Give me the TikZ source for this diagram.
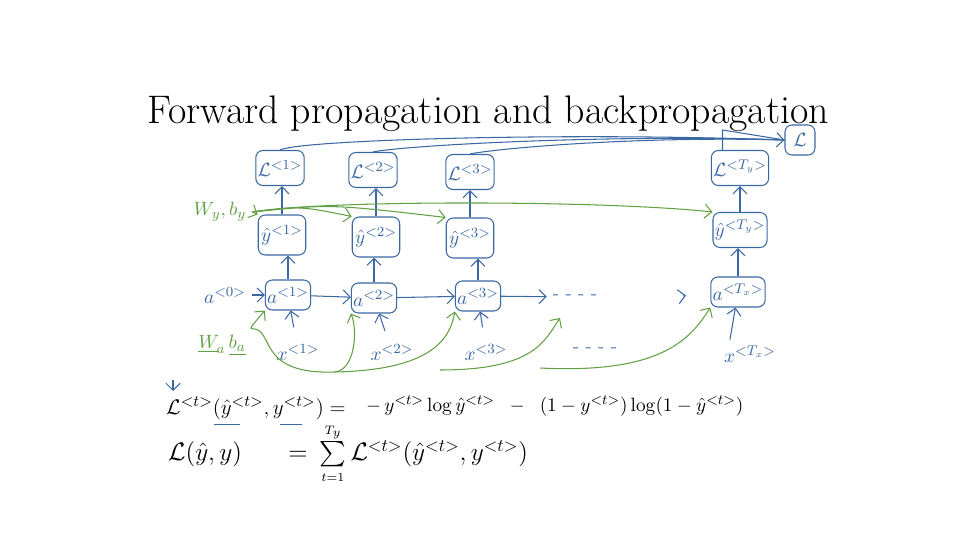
\documentclass[tikz,border=0pt]{standalone}
\usepackage{amsmath}
\usetikzlibrary{
  arrows.meta,
  positioning
}
\definecolor{inkblue}{HTML}{3A68A3}
\definecolor{inkgreen}{HTML}{62A044}

\begin{document}
\begin{tikzpicture}[x=0.02cm, y=-0.02cm,
      cell/.style={
        rectangle, rounded corners=4pt, draw=inkblue, semithick,
        inner sep=1pt, font=\fontsize{11}{13}\selectfont\color{inkblue}
      },
      lossbox/.style={cell, minimum width=0.85cm, minimum height=0.7cm},
      predbox/.style={cell, minimum width=0.95cm, minimum height=0.8cm},
      actbox/.style={cell, minimum width=0.85cm, minimum height=0.6cm},
      ink/.style={font=\fontsize{11}{13}\selectfont\color{inkblue}},
      greenink/.style={font=\fontsize{11}{13}\selectfont\color{inkgreen}},
      arrow/.style={-{Straight Barb[length=4pt]}, semithick, inkblue},
      greenarrow/.style={-{Straight Barb[length=4pt]}, semithick, inkgreen}
    ]
      \useasboundingbox (0,0) rectangle (960,540);

      \node[font=\fontsize{22.7}{26}\selectfont] (title) at (488,114) {Forward propagation and backpropagation};

      % loss row
      \node[cell, minimum width=0.6cm, minimum height=0.6cm] (loss) at (800,140) {$\mathcal{L}$};
      \node[lossbox] (l1) at (280,168) {$\mathcal{L}^{<1>}$};
      \node[lossbox] (l2) at (373,170) {$\mathcal{L}^{<2>}$};
      \node[lossbox] (l3) at (470,172) {$\mathcal{L}^{<3>}$};
      \node[lossbox, minimum width=0.95cm] (lTy) at (740,168) {$\mathcal{L}^{<T_y>}$};

      % prediction row
      \node[predbox] (yhat1) at (282,235) {$\hat{y}^{<1>}$};
      \node[predbox] (yhat2) at (376,237) {$\hat{y}^{<2>}$};
      \node[predbox] (yhat3) at (470,238) {$\hat{y}^{<3>}$};
      \node[predbox, minimum width=1.05cm, minimum height=0.7cm] (yhatTy) at (740,230) {$\hat{y}^{<T_y>}$};

      % activation row
      \node[ink] (a0) at (225,295) {$a^{<0>}$};
      \node[actbox] (a1) at (288,295) {$a^{<1>}$};
      \node[actbox, minimum width=0.7cm] (a2) at (374,298) {$a^{<2>}$};
      \node[actbox, minimum width=0.75cm] (a3) at (478,296) {$a^{<3>}$};
      \node[ink] (dotsA) at (575,297) {- - - -};
      \node[actbox, minimum width=1.0cm] (aTx) at (738,292) {$a^{<T_x>}$};
      \coordinate (pre) at (683,296);

      % inputs
      \node[ink] (x1) at (298,352) {$x^{<1>}$};
      \node[ink] (x2) at (392,352) {$x^{<2>}$};
      \node[ink] (x3) at (486,352) {$x^{<3>}$};
      \node[ink] (dotsX) at (595,350) {- - - -};
      \node[ink] (xTx) at (750,354) {$x^{<T_x>}$};

      \draw[arrow] (a0) -- (a1);
      \draw[arrow] (a1) -- (a2);
      \draw[arrow] (a2) -- (a3);
      \draw[arrow] (a3) -- (dotsA);
      \draw[arrow, shorten >=14pt] (pre) -- (aTx.west);

      \foreach \i in {1,2,3,Ty} {
        \draw[arrow] (yhat\i.north) -- (yhat\i.north |- l\i.south);
      }
      \draw[arrow] (a1.north) -- (a1.north |- yhat1.south);
      \draw[arrow] (a2.north) -- (a2.north |- yhat2.south);
      \draw[arrow] (a3.north) -- (a3.north |- yhat3.south);
      \draw[arrow] (aTx.north) -- (aTx.north |- yhatTy.south);
      \draw[arrow, shorten <=6pt] (x1) -- (a1);
      \draw[arrow, shorten <=4pt] (x2) -- (a2);
      \draw[arrow, shorten <=6pt] (x3) -- (a3);
      \draw[arrow] (xTx.north west) ++(12,0) -- (aTx);

      % losses summed into L
      \draw[arrow] (l1.north) .. controls (300,140) and (560,132) .. (loss.west);
      \draw[inkblue, semithick] (l2.north) .. controls (400,146) and (600,134) .. (loss.west);
      \draw[inkblue, semithick] (l3.north) .. controls (500,148) and (640,136) .. (loss.west);
      \draw[inkblue, semithick] ([xshift=-0.35cm]lTy.north) -- ++(0,-20) -- (loss.west);

      % shared output parameters
      \node[greenink] (wy) at (220,212) {$W_y, b_y$};
      \draw[greenarrow] (wy.east) -- (yhat1.north west);
      \draw[greenarrow] (wy.east) .. controls (300,206) .. (yhat2.north west);
      \draw[greenarrow] (wy.east) .. controls (330,204) .. (yhat3.north west);
      \draw[greenarrow] (wy.east) .. controls (320,200) and (600,200) .. (yhatTy.north west);

      % shared recurrent parameters
      \node[greenink] (wa) at (222,345) {$\underline{W}_{\!a}\,\underline{b_a}$};
      \coordinate (j1) at (335,372);
      \coordinate (j2) at (440,370);
      \coordinate (j3) at (540,368);
      \coordinate (dotsIn) at (560,318);
      \draw[greenarrow] (wa.north east) .. controls (250,328) .. (a1.south west);
      \draw[inkgreen, semithick] (wa.north east) .. controls (275,328) and (255,375) .. (j1);
      \draw[greenarrow] (j1) .. controls (355,370) and (358,330) .. (a2.south west);
      \draw[greenarrow] (j1) .. controls (430,370) and (450,340) .. (a3.south west);
      \draw[greenarrow] (j2) .. controls (535,370) and (545,340) .. (dotsIn);
      \draw[greenarrow] (j3) .. controls (660,374) and (690,340) .. (aTx.south west);

      % loss equations
      \node[anchor=west, font=\fontsize{13}{15}\selectfont] (lossdef) at (160,408)
        {$\mathcal{L}^{<t>}(\hat{y}^{<t>}, y^{<t>}) =$};
      \coordinate (tick) at (173,380);
      \draw[arrow] (tick) -- ++(0,11);
      \draw[inkblue] (214,424) -- (240,424);
      \draw[inkblue] (280,424) -- (302,424);
      \node[ink, anchor=west, font=\fontsize{11}{13}\selectfont] (crossent) at (360,406)
        {$-\,y^{<t>}\log\hat{y}^{<t>} \;\;-\;\; (1-y^{<t>})\log(1-\hat{y}^{<t>})$};
      \node[ink, anchor=west, font=\fontsize{14}{16}\selectfont] (total) at (162,454)
        {$\mathcal{L}(\hat{y}, y) \hspace{1.6em}=\hspace{0.2em}
          \sum\limits_{\scriptscriptstyle t=1}^{\scriptscriptstyle T_y} \mathcal{L}^{<t>}(\hat{y}^{<t>}, y^{<t>})$};
    \end{tikzpicture}
\end{document}
